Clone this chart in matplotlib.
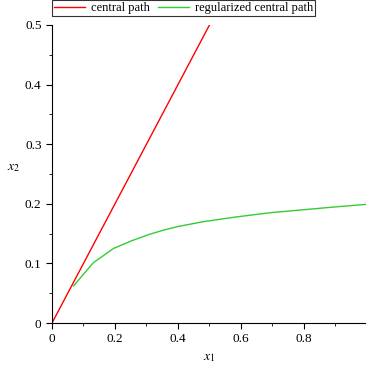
import matplotlib.pyplot as plt
from matplotlib.ticker import MultipleLocator

plt.rcParams['font.family'] = ['Liberation Serif', 'DejaVu Serif']
plt.rcParams['mathtext.fontset'] = 'stix'

# central path: straight line x2 = x1
cp_x = [0.0, 0.5]
cp_y = [0.0, 0.5]

# regularized central path
rcp_x = [0.068, 0.131, 0.195, 0.253, 0.311, 0.355, 0.401, 0.48, 0.586, 0.692, 0.798, 0.904, 0.997]
rcp_y = [0.062, 0.101, 0.125, 0.138, 0.149, 0.156, 0.162, 0.170, 0.178, 0.185, 0.190, 0.195, 0.199]

fig = plt.figure(figsize=(3.66, 3.69), dpi=100)
ax = fig.add_axes([52/366, 1 - 323/369, (366-52)/366, (323-25)/369])

ax.plot(cp_x, cp_y, color='#ff0000', lw=1, label='central path')
ax.plot(rcp_x, rcp_y, color='#33cc33', lw=1, label='regularized central path')

ax.set_xlim(0, 0.997)
ax.set_ylim(0, 0.5)
ax.spines['top'].set_visible(False)
ax.spines['right'].set_visible(False)
ax.xaxis.set_major_locator(MultipleLocator(0.2))
ax.xaxis.set_minor_locator(MultipleLocator(0.1))
ax.yaxis.set_major_locator(MultipleLocator(0.1))
ax.yaxis.set_minor_locator(MultipleLocator(0.05))
ax.xaxis.set_major_formatter(plt.FuncFormatter(lambda v, p: '0' if v == 0 else f'{v:.1f}'))
ax.yaxis.set_major_formatter(plt.FuncFormatter(lambda v, p: '0' if v == 0 else f'{v:.1f}'))
ax.tick_params(which='major', length=4, labelsize=9.5)
ax.tick_params(which='minor', length=2)

ax.set_xlabel(r'$x_{\mathrm{1}}$', fontsize=10)
ax.set_ylabel(r'$x_{\mathrm{2}}$', fontsize=10, rotation=0)
ax.yaxis.set_label_coords(-38/314, 0.5)

leg = fig.legend(loc='upper left', bbox_to_anchor=(52/366, 1.0), ncol=2, frameon=True,
                 fancybox=False, edgecolor='black', fontsize=9, borderpad=0.15,
                 handlelength=2.5, columnspacing=0.6, handletextpad=0.5, borderaxespad=0)
leg.get_frame().set_linewidth(0.8)

fig.savefig('out.png', dpi=100)
